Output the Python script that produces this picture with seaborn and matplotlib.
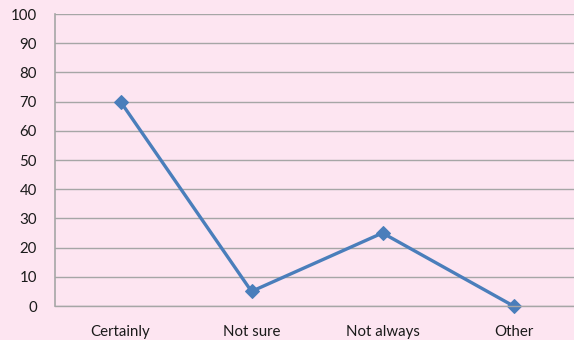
import matplotlib
matplotlib.use("Agg")
import matplotlib.pyplot as plt
import seaborn as sns
import pandas as pd

categories = ["Certainly", "Not sure", "Not always", "Other"]
values = [70, 5, 25, 0]
y_ticks = [0, 10, 20, 30, 40, 50, 60, 70, 80, 90, 100]

bg = "#FDE5F1"
line_color = "#4A7EBB"
grid_color = "#A6A6A6"

sns.set_style("white")
plt.rcParams["font.family"] = ["Lato", "DejaVu Sans"]

df = pd.DataFrame({"answer": categories, "value": values})
df["pos"] = range(len(categories))

fig = plt.figure(figsize=(5.74, 3.40), dpi=100, facecolor=bg)
ax = fig.add_axes([55 / 574, 34 / 340, 524 / 574, 292 / 340])
ax.set_facecolor(bg)

sns.lineplot(data=df, x="pos", y="value", ax=ax, color=line_color,
             linewidth=2.4, marker="D", markersize=7.5,
             markeredgecolor=line_color, markerfacecolor=line_color)
for line in ax.lines:
    line.set_clip_on(False)

ax.set_xlim(-0.5, len(categories) - 0.5)
ax.set_ylim(0, 100)
ax.set_yticks(y_ticks)
ax.set_yticklabels([str(v) for v in y_ticks])

# categories sit between the boundary tick marks
ax.set_xticks([i + 0.5 for i in range(len(categories) - 1)])
ax.set_xticklabels([])
ax.set_xticks(range(len(categories)), minor=True)
ax.set_xticklabels(categories, minor=True)
ax.tick_params(axis="x", which="major", length=4, width=1, color=grid_color,
               direction="out")
ax.tick_params(axis="x", which="minor", length=0, pad=13.5, labelsize=10.8,
               labelcolor="#1a1a1a")
ax.tick_params(axis="y", length=5, width=1, color=grid_color, pad=8,
               labelsize=10.8, labelcolor="#1a1a1a")

ax.yaxis.grid(True, color=grid_color, linewidth=1)
ax.set_axisbelow(True)
for side in ["top", "right"]:
    ax.spines[side].set_visible(False)
ax.spines["left"].set_color(grid_color)
ax.spines["left"].set_linewidth(1.2)
ax.spines["bottom"].set_color(grid_color)
ax.spines["bottom"].set_linewidth(1)

ax.set_xlabel("")
ax.set_ylabel("")

fig.savefig("out.png", dpi=100, facecolor=bg)
